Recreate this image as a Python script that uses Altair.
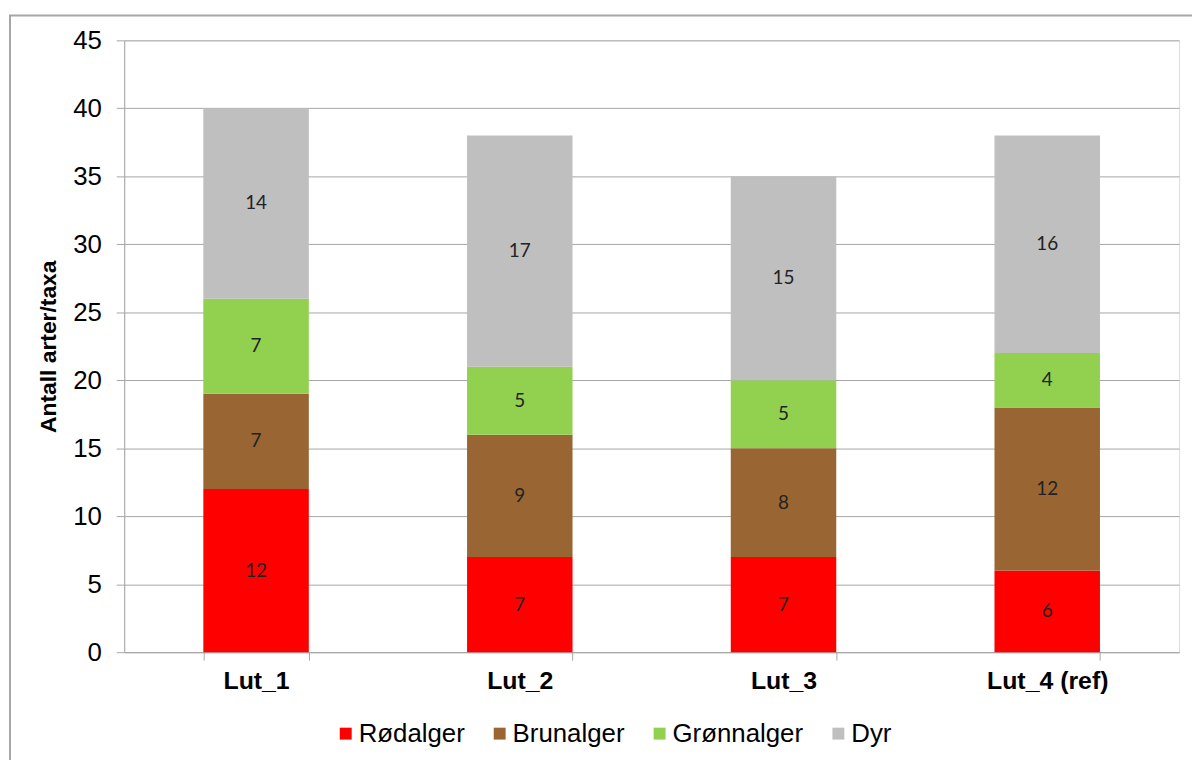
import altair as alt
import pandas as pd

sites = ["Lut_1", "Lut_2", "Lut_3", "Lut_4 (ref)"]
groups = ["Rødalger", "Brunalger", "Grønnalger", "Dyr"]
colors = ["#FF0000", "#996633", "#92D050", "#BFBFBF"]
rodalger = [12, 7, 7, 6]
brunalger = [7, 9, 8, 12]
gronnalger = [7, 5, 5, 4]
dyr = [14, 17, 15, 16]

series = [rodalger, brunalger, gronnalger, dyr]
rows = []
for gi, (g, vals) in enumerate(zip(groups, series)):
    for s, v in zip(sites, vals):
        rows.append({"site": s, "group": g, "order": gi, "value": v})
df = pd.DataFrame(rows)

FONT = "Liberation Sans"
W, H = 1062, 616

base = alt.Chart(df).transform_stack(
    stack="value", groupby=["site"], as_=["y0", "y1"],
    sort=[alt.SortField("order", order="ascending")]
).transform_calculate(mid="(datum.y0 + datum.y1) / 2")

xenc = alt.X("site:N", sort=sites, title=None,
             scale=alt.Scale(paddingInner=0.6, paddingOuter=0.3),
             axis=alt.Axis(labelFont=FONT, labelFontSize=25, labelFontWeight="bold",
                           labelColor="#000000", labelAngle=0, labelPadding=9,
                           tickBand="extent", tickSize=8, tickColor="#A6A6A6",
                           domainColor="#A6A6A6", grid=False))

bars = base.mark_bar().encode(
    x=xenc,
    y=alt.Y("y0:Q", title="Antall arter/taxa",
            scale=alt.Scale(domain=[0, 45], nice=False),
            axis=alt.Axis(values=list(range(0, 46, 5)), labelFont=FONT, labelFontSize=26,
                          labelColor="#000000", labelPadding=15, tickSize=8,
                          tickColor="#A6A6A6", domainColor="#A6A6A6",
                          gridColor="#A6A6A6", gridWidth=1,
                          titleFont=FONT, titleFontSize=23, titleFontWeight="bold",
                          titleColor="#000000", titlePadding=12)),
    y2="y1:Q",
    color=alt.Color("group:N", scale=alt.Scale(domain=groups, range=colors),
                    legend=alt.Legend(title=None, orient="none", direction="horizontal",
                                      legendX=210, legendY=685,
                                      symbolType="square", symbolSize=144,
                                      symbolStrokeWidth=0, labelFont=FONT,
                                      labelFontSize=26, labelColor="#000000",
                                      labelOffset=0, columnPadding=22)),
)

labels = base.mark_text(font="Lato", fontSize=19, color="#222222", baseline="middle").encode(
    x=alt.X("site:N", sort=sites),
    y=alt.Y("mid:Q"),
    text=alt.Text("value:Q"),
)

frame = alt.Chart(pd.DataFrame({"a": [0]})).mark_rect(
    fillOpacity=0, stroke="#A6A6A6", strokeWidth=2
).encode(
    x=alt.value(-115), x2=alt.value(1150), y=alt.value(-25), y2=alt.value(740)
)

chart = alt.layer(frame, bars, labels).properties(
    width=W, height=H,
    autosize=alt.AutoSizeParams(type="none"),
    padding={"left": 117, "top": 30, "right": 13, "bottom": 106},
).configure_view(stroke=None).configure(background="white")

chart.save("out.html", embed_options={"renderer": "svg", "actions": False})
